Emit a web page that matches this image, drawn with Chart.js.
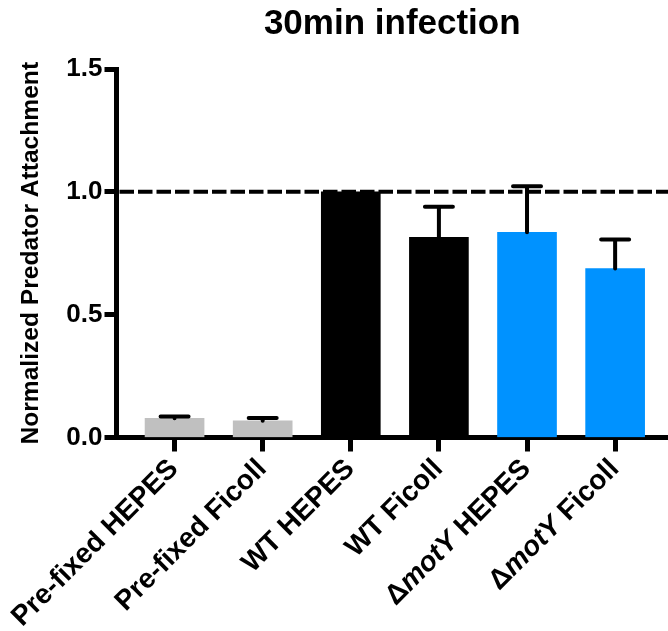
<!DOCTYPE html>
<html>
<head>
<meta charset="utf-8">
<script src="https://cdn.jsdelivr.net/npm/chart.js@4/dist/chart.umd.min.js"></script>
<style>
html,body{margin:0;padding:0;background:#fff;}
canvas{display:block;}
</style>
</head>
<body>
<canvas id="c" width="668" height="631"></canvas>
<script>
// ---- data ----
const categories = ["Pre-fixed HEPES", "Pre-fixed Ficoll", "WT HEPES", "WT Ficoll", "\u0394motY HEPES", "\u0394motY Ficoll"];
const italicWords = ["motY"];
const values = [0.078, 0.068, 1.0, 0.815, 0.835, 0.688];
const errors = [0.007, 0.011, 0.0, 0.124, 0.188, 0.118];
const barColors = ["#c0c0c0", "#c0c0c0", "#000000", "#000000", "#0092ff", "#0092ff"];
const yTicks = [0, 0.5, 1.0, 1.5];
const referenceLine = 1.0;
const titleText = "30min infection";
const yTitle = "Normalized Predator Attachment";

const FONT = "'Liberation Sans', Arial, Helvetica, sans-serif";

const refLinePlugin = {
  id: 'refLine',
  beforeDatasetsDraw(chart) {
    const {ctx, chartArea, scales} = chart;
    const y = scales.y.getPixelForValue(referenceLine);
    ctx.save();
    ctx.strokeStyle = '#000';
    ctx.lineWidth = 4;
    ctx.setLineDash([14.5, 4]);
    ctx.beginPath();
    ctx.moveTo(chartArea.left + 3, y);
    ctx.lineTo(chartArea.right, y);
    ctx.stroke();
    ctx.restore();
  }
};

const errorBarPlugin = {
  id: 'errBars',
  afterDatasetsDraw(chart) {
    const {ctx, scales} = chart;
    const meta = chart.getDatasetMeta(0);
    ctx.save();
    ctx.strokeStyle = '#000';
    ctx.lineWidth = 4;
    ctx.lineCap = 'round';
    meta.data.forEach((bar, i) => {
      const e = errors[i];
      if (!e) return;
      const yb = scales.y.getPixelForValue(values[i]);
      const yt = scales.y.getPixelForValue(values[i] + e);
      ctx.beginPath();
      ctx.moveTo(bar.x, yb);
      ctx.lineTo(bar.x, yt);
      ctx.moveTo(bar.x - 14, yt);
      ctx.lineTo(bar.x + 14, yt);
      ctx.stroke();
    });
    ctx.restore();
  }
};

function splitSegments(label) {
  const segs = [];
  let rest = label;
  while (rest.length) {
    let idx = -1, word = null;
    italicWords.forEach(w => {
      const k = rest.indexOf(w);
      if (k >= 0 && (idx < 0 || k < idx)) { idx = k; word = w; }
    });
    if (idx < 0) { segs.push({t: rest, it: false}); break; }
    if (idx > 0) segs.push({t: rest.slice(0, idx), it: false});
    segs.push({t: word, it: true});
    rest = rest.slice(idx + word.length);
  }
  return segs;
}

const xLabelPlugin = {
  id: 'xLabels',
  afterDraw(chart) {
    const {ctx, scales} = chart;
    const size = 28;
    ctx.save();
    ctx.fillStyle = '#000';
    ctx.textBaseline = 'alphabetic';
    ctx.textAlign = 'left';
    categories.forEach((lab, i) => {
      const x = scales.x.getPixelForValue(i);
      const segs = splitSegments(lab);
      let total = 0;
      segs.forEach(s => {
        ctx.font = (s.it ? 'italic ' : '') + 'bold ' + size + 'px ' + FONT;
        s.w = ctx.measureText(s.t).width;
        total += s.w;
      });
      ctx.save();
      ctx.translate(x + 5, 470);
      ctx.rotate(-Math.PI / 4);
      let cx = -total;
      segs.forEach(s => {
        ctx.font = (s.it ? 'italic ' : '') + 'bold ' + size + 'px ' + FONT;
        ctx.fillText(s.t, cx, 0);
        cx += s.w;
      });
      ctx.restore();
    });
    ctx.restore();
  }
};

new Chart(document.getElementById('c'), {
  type: 'bar',
  data: {
    datasets: [{
      data: values.map((v, i) => ({x: i, y: v})),
      backgroundColor: barColors,
      borderWidth: 0,
      barThickness: 59
    }]
  },
  options: {
    responsive: false,
    animation: false,
    devicePixelRatio: 1,
    layout: {padding: {left: 0, right: 0, top: 0, bottom: 0}},
    plugins: {
      legend: {display: false},
      tooltip: {enabled: false},
      title: {
        display: true,
        text: titleText,
        fullSize: false,
        color: '#000',
        font: {family: FONT, size: 35, weight: 'bold'},
        padding: {top: 3, bottom: 24}
      }
    },
    scales: {
      x: {
        type: 'linear',
        offset: false,
        min: -0.659,
        max: 5.6,
        afterBuildTicks(scale) { scale.ticks = categories.map((c, i) => ({value: i})); },
        afterFit(scale) { scale.height = 193.5; scale.paddingLeft = 0; scale.paddingRight = 0; },
        ticks: {display: false},
        grid: {display: true, offset: false, drawOnChartArea: false, drawTicks: true, tickLength: 14, tickWidth: 5, tickColor: '#000', color: '#000'},
        border: {display: true, width: 5, color: '#000'}
      },
      y: {
        min: 0,
        max: 1.5,
        afterBuildTicks(scale) { scale.ticks = yTicks.map(v => ({value: v})); },
        afterFit(scale) { scale.width = 116.5; },
        ticks: {
          color: '#000',
          padding: 2,
          font: {family: FONT, size: 26, weight: 'bold'},
          callback: v => Number(v).toFixed(1)
        },
        grid: {display: true, drawOnChartArea: false, drawTicks: true, tickLength: 12, tickWidth: 5, tickColor: '#000', color: '#000'},
        border: {display: true, width: 5, color: '#000'},
        title: {
          display: true,
          text: yTitle,
          color: '#000',
          font: {family: FONT, size: 24.6, weight: 'bold'},
          padding: {top: 16, bottom: 0}
        }
      }
    }
  },
  plugins: [refLinePlugin, errorBarPlugin, xLabelPlugin]
});
</script>
</body>
</html>
